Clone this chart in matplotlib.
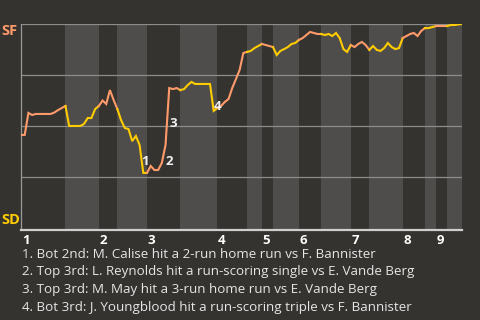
"""
Win probability chart, SF at SD.
"""
import matplotlib.pyplot as plt

plt.rcParams['font.family'] = ['Open Sans', 'DejaVu Sans']

# plays per half inning: top 1, bot 1, ..., bot 9
half_plays = [12, 9, 5, 8, 9, 10, 8, 4, 3, 7, 6, 8, 5, 9, 6, 3, 3, 4]
innings = ['1', '2', '3', '4', '5', '6', '7', '8', '9']

# SF win probability (%) before the first play and after each play
sf_wp = [45.6, 45.6, 56.4, 55.4, 55.9, 55.9, 55.9, 55.9, 55.9, 56.6,
         57.8, 58.8, 59.8, 50.0, 50.0, 50.0, 50.0, 51.0, 53.9, 53.9,
         58.3, 59.8, 62.5, 60.8, 67.6, 62.7, 58.3, 52.9, 49.0, 48.5,
         42.6, 45.1, 40.7, 27.0, 27.0, 30.4, 28.4, 28.4, 31.9, 40.7,
         68.6, 68.1, 68.6, 67.6, 68.1, 70.1, 71.6, 70.6, 70.6, 70.6,
         70.6, 70.6, 57.4, 58.8, 59.8, 61.8, 63.2, 68.6, 73.0, 77.5,
         85.8, 86.3, 86.8, 88.2, 89.2, 90.2, 89.7, 89.2, 88.7, 84.8,
         86.8, 87.7, 88.7, 90.2, 90.7, 92.2, 93.1, 94.6, 96.1, 95.6,
         95.1, 95.1, 94.6, 95.1, 94.1, 95.6, 93.1, 87.7, 86.3, 89.7,
         88.7, 90.2, 91.2, 89.7, 87.3, 89.2, 87.3, 86.8, 88.2, 90.7,
         88.7, 87.7, 88.2, 93.1, 94.1, 95.1, 95.6, 94.1, 96.6, 98.0,
         98.0, 98.5, 99.0, 99.0, 99.0, 99.0, 99.5, 99.5, 99.8, 100.0]

# key plays (index into sf_wp) and their footnotes
events = [33, 38, 40, 52]
event_labels = ['1', '2', '3', '4']
notes = ['1. Bot 2nd: M. Calise hit a 2-run home run vs F. Bannister',
         '2. Top 3rd: L. Reynolds hit a run-scoring single vs E. Vande Berg',
         '3. Top 3rd: M. May hit a 3-run home run vs E. Vande Berg',
         '4. Bot 3rd: J. Youngblood hit a run-scoring triple vs F. Bannister']

bg = '#353330'
band = '#4e4d4b'
sf_col = '#ff9a6a'
sd_col = '#ffcc00'

fig = plt.figure(figsize=(4.8, 3.2), dpi=100, facecolor=bg)
ax = fig.add_axes([21/480, 90/320, 441/480, 206/320], facecolor=bg)

starts = [0]
for n in half_plays:
    starts.append(starts[-1] + n)

# shade bottom halves, draw the line coloured by batting team
for h in range(len(half_plays)):
    a, b = starts[h], starts[h+1]
    if h % 2 == 1:
        ax.axvspan(a, b, color=band, lw=0, zorder=0)
    col = sf_col if h % 2 == 0 else sd_col
    ax.plot(range(a, b+1), sf_wp[a:b+1], color=col, lw=1.5, zorder=3,
            solid_joinstyle='miter')

for g in [25, 50, 75, 100]:
    ax.axhline(g, color='#8c8c8a', lw=0.9, zorder=1)

ax.set_xlim(0, starts[-1])
ax.set_ylim(-1, 100)
ax.set_xticks([])
ax.set_yticks([])
for s in ['top', 'right']:
    ax.spines[s].set_visible(False)
ax.spines['left'].set_color('#9a9a98')
ax.spines['left'].set_linewidth(0.9)
ax.spines['bottom'].set_color('#cfcfcf')
ax.spines['bottom'].set_linewidth(1.6)

# inning numbers at start of each inning
for i, lbl in enumerate(innings):
    ax.text(starts[2*i] + 0.2, -0.05, lbl, transform=ax.get_xaxis_transform(),
            ha='left', va='center', color='white', fontsize=9.5, fontweight='bold')

offsets = [(2, 11), (7, 1), (4, -35), (4, 4)]
for e, lbl, off in zip(events, event_labels, offsets):
    ax.annotate(lbl, xy=(e, sf_wp[e]), xytext=off, textcoords='offset pixels',
                ha='center', va='center', color='#f0f0f0', fontsize=9.5,
                fontweight='bold', zorder=5)

fig.text(9.5/480, 1 - 31/320, 'SF', ha='center', va='center', color=sf_col,
         fontsize=10.5, fontweight='bold')
fig.text(11/480, 1 - 220/320, 'SD', ha='center', va='center', color=sd_col,
         fontsize=10.5, fontweight='bold')

for k, note in enumerate(notes):
    fig.text(22/480, 1 - (254 + 18*k)/320, note, ha='left', va='center',
             color='#e6e6e6', fontsize=9.6)

fig.savefig('out.png', dpi=100, facecolor=bg)
